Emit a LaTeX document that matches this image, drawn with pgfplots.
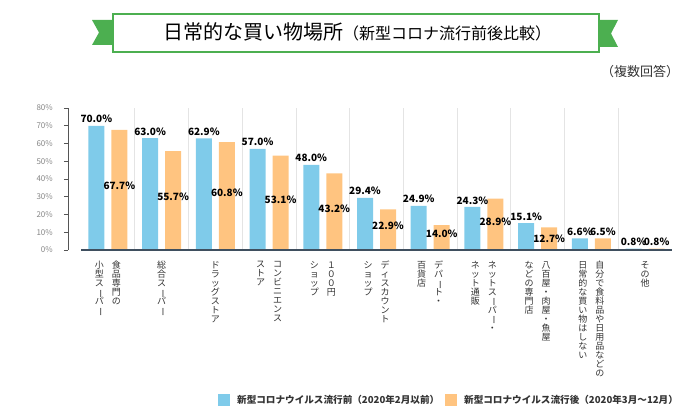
\documentclass[border=0pt]{standalone}
\usepackage{fontspec}
\setmainfont{Noto Sans CJK JP}
\usepackage{graphicx}
\usepackage{pgfplots}
\usepackage{pgfplotstable}
\pgfplotsset{compat=1.18}
\definecolor{barblue}{HTML}{7FCBEA}
\definecolor{barorange}{HTML}{FFC480}
\definecolor{gframe}{HTML}{4CAF50}
\definecolor{basecol}{HTML}{3F4F5F}
\definecolor{axgray}{HTML}{555555}
\definecolor{ticklab}{HTML}{858585}
\definecolor{sepgray}{HTML}{E4E4E4}
\definecolor{labcol}{HTML}{333333}
\makeatletter
\def\tatebar{ー}
\newcommand\tateglyph[1]{\ifx#1\tatebar\rotatebox[origin=c]{-90}{ー}\else#1\fi}
\newcommand\tatecol[1]{\vtop{\baselineskip=9bp\lineskip=0pt\lineskiplimit=-20pt\@tfor\tc:=#1\do{\hbox to 9bp{\hss\tateglyph\tc\hss}}}}
\makeatother
\newcommand\tate[2]{\hbox{\tatecol{#2}\kern8bp\tatecol{#1}}}
\pgfplotstableread{
x b o ly
0 70.0 67.7 36.2
1 63.0 55.7 30.0
2 62.9 60.8 32.3
3 57.0 53.1 28.5
4 48.0 43.2 23.5
5 29.4 22.9 13.7
6 24.9 14.0 9.4
7 24.3 28.9 15.8
8 15.1 12.7 6.2
9 6.6 6.5 10.0
10 0.8 0.8 4.7
}\data
\begin{document}
\begin{tikzpicture}
\useasboundingbox (0,0) rectangle (700bp,420bp);
% title banner
\fill[gframe] (92bp,400bp) -- (113bp,400bp) -- (113bp,375bp) -- (92bp,375bp) -- (99bp,387.5bp) -- cycle;
\fill[gframe] (618bp,400bp) -- (599bp,400bp) -- (599bp,373bp) -- (618bp,373bp) -- (611bp,386.5bp) -- cycle;
\draw[gframe, line width=1.3bp, fill=white] (113bp,368bp) rectangle (599bp,406bp);
\node[anchor=base, inner sep=0pt] at (357bp,380bp) {\fontsize{20bp}{21bp}\selectfont 日常的な買い物場所\fontsize{16bp}{17bp}\selectfont （新型コロナ流行前後比較）};
\node[anchor=base, inner sep=0pt, text=labcol] at (640bp,343bp) {\fontsize{13bp}{14bp}\selectfont （複数回答）};
\begin{axis}[
  at={(68bp,170bp)}, anchor=south west,
  scale only axis, width=604bp, height=142bp,
  xmin=-0.742, xmax=10.5, ymin=0, ymax=80,
  clip=false,
  axis x line=bottom, axis y line=left,
  x axis line style={draw=none},
  y axis line style={-, draw=axgray, line width=0.8bp},
  /pgf/number format/assume math mode=true,
  ytick={0,10,...,80},
  yticklabel={\pgfmathprintnumber{\tick}\%},
  yticklabel style={font=\fontsize{8bp}{9bp}\selectfont, text=ticklab, anchor=east, inner sep=0pt, xshift=-11bp},
  tick align=outside, major tick length=4bp,
  ytick style={draw=axgray, line width=0.6bp},
  xtick={0,...,10},
  xtick style={draw=none},
  xticklabels={
    {\tate{食品専門の}{小型スーパー}},
    {\tatecol{総合スーパー}},
    {\tatecol{ドラッグストア}},
    {\tate{コンビニエンス}{ストア}},
    {\tate{１００円}{ショップ}},
    {\tate{ディスカウント}{ショップ}},
    {\tate{デパート・}{百貨店}},
    {\tate{ネットスーパー・}{ネット通販}},
    {\tate{八百屋・肉屋・魚屋}{などの専門店}},
    {\tate{自分で食料品や日用品などの}{日常的な買い物はしない}},
    {\tatecol{その他}}},
  xticklabel style={anchor=north, inner sep=0pt, yshift=-7bp, font=\fontsize{9bp}{9bp}\selectfont, text=labcol},
  extra x ticks={0.5,1.5,...,9.5},
  extra x tick labels={},
  extra x tick style={grid=major, major grid style={draw=sepgray, line width=0.8bp}, tick style={draw=none}},
  legend style={at={(0.2483,-1.056)}, anchor=west, draw=none, fill=none, inner sep=0pt,
    font=\bfseries\fontsize{9.6bp}{10bp}\selectfont, text=labcol,
    /tikz/every odd column/.append style={column sep=5bp},
    /tikz/every even column/.append style={column sep=4bp}},
  legend columns=2,
]
\addplot[ybar, bar width=16bp, bar shift=-11.5bp, fill=barblue, draw=none,
  point meta=y,
  nodes near coords={\pgfmathprintnumber[fixed,fixed zerofill,precision=1]{\pgfplotspointmeta}\%},
  every node near coord/.append style={anchor=south, inner sep=0pt, xshift=-11.5bp, yshift=2.5bp, font=\bfseries\fontsize{10bp}{11bp}\selectfont, text=black},
  legend image code/.code={\fill[barblue] (0bp,-6bp) rectangle (12bp,6bp);}]
  table[x=x, y=b] {\data};
\addlegendentry{新型コロナウイルス流行前（2020年2月以前）}
\addplot[ybar, bar width=16bp, bar shift=11.5bp, fill=barorange, draw=none,
  legend image code/.code={\fill[barorange] (0bp,-6bp) rectangle (12bp,6bp);}]
  table[x=x, y=o] {\data};
\addlegendentry{新型コロナウイルス流行後（2020年3月～12月）}
\addplot[draw=none, mark=none, forget plot, point meta=explicit,
  nodes near coords={\pgfmathprintnumber[fixed,fixed zerofill,precision=1]{\pgfplotspointmeta}\%},
  every node near coord/.append style={anchor=center, inner sep=0pt, xshift=11.5bp, font=\bfseries\fontsize{10bp}{11bp}\selectfont, text=black}]
  table[x=x, y=ly, meta=o] {\data};
\draw[basecol, line width=1.5bp] (axis cs:-0.5,0) -- (axis cs:10.5,0);
\end{axis}
\end{tikzpicture}
\end{document}
